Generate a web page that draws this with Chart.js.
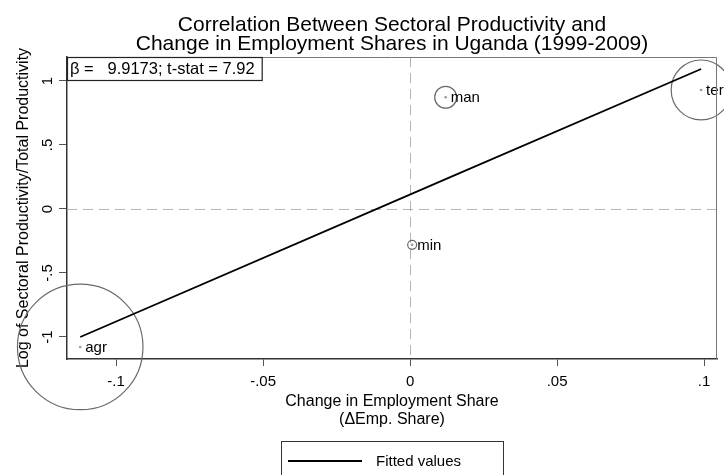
<!DOCTYPE html>
<html>
<head>
<meta charset="utf-8">
<script src="https://cdn.jsdelivr.net/npm/chart.js@4.4.1/dist/chart.umd.min.js"></script>
<style>
  html, body { margin: 0; padding: 0; background: #ffffff; }
  #wrap { width: 724px; height: 475px; }
</style>
</head>
<body>
<div id="wrap"><canvas id="c" width="724" height="475"></canvas></div>
<script>
// ---- data ----
const sectors = ['agr', 'min', 'man', 'ter'];
const empShareChange = [-0.1122, 0.0007, 0.0121, 0.0990];       // x: change in employment share
const logRelProductivity = [-1.078, -0.280, 0.873, 0.930];       // y: log sectoral / total productivity
const empShareWeight = [0.79, 0.004, 0.024, 0.18];               // bubble weights (employment share)
const fittedValues = [-1.000, 0.120, 0.233, 1.094];              // fitted regression line values
const xTickValues = [-0.1, -0.05, 0, 0.05, 0.1];
const xTickLabels = ['-.1', '-.05', '0', '.05', '.1'];
const yTickValues = [-1, -0.5, 0, 0.5, 1];
const yTickLabels = ['-1', '-.5', '0', '.5', '1'];
const betaValue = '9.9173';
const tStatValue = '7.92';
const titleLines = ['Correlation Between Sectoral Productivity and',
                    'Change in Employment Shares in Uganda (1999-2009)'];
const xTitleLines = ['Change in Employment Share', '(\u0394Emp. Share)'];
const yTitle = 'Log of Sectoral Productivity/Total Productivity';
const legendLabel = 'Fitted values';

// ---- styling ----
const FONT = "'Liberation Sans', Arial, Helvetica, sans-serif";
const BUBBLE_SCALE = 70.6;

const framePlugin = {
  id: 'frame',
  beforeDatasetsDraw(chart) {
    const {ctx, chartArea: a, scales: {x, y}} = chart;
    ctx.save();
    ctx.strokeStyle = '#b4b4b4';
    ctx.lineWidth = 1;
    ctx.setLineDash([10, 6]);
    const x0 = Math.round(x.getPixelForValue(0)) + 0.5;
    const y0 = Math.round(y.getPixelForValue(0)) + 0.5;
    ctx.beginPath();
    ctx.moveTo(x0, a.top); ctx.lineTo(x0, a.bottom);
    ctx.moveTo(a.left, y0); ctx.lineTo(a.right, y0);
    ctx.stroke();
    ctx.restore();
  },
  afterDatasetsDraw(chart) {
    const {ctx, chartArea: a} = chart;
    const meta = chart.getDatasetMeta(0);
    ctx.save();
    ctx.font = '15px ' + FONT;
    ctx.fillStyle = '#000';
    ctx.textBaseline = 'middle';
    ctx.textAlign = 'left';
    meta.data.forEach((pt, i) => {
      ctx.fillText(sectors[i], pt.x + 5, pt.y + 1);
    });
    ctx.strokeStyle = '#777';
    ctx.lineWidth = 1;
    ctx.beginPath();
    ctx.moveTo(a.left, a.top + 0.5); ctx.lineTo(a.right - 0.5, a.top + 0.5);
    ctx.lineTo(a.right - 0.5, a.bottom);
    ctx.stroke();
    ctx.font = '16.5px ' + FONT;
    const txt = '\u03B2 =   ' + betaValue + '; t-stat = ' + tStatValue;
    const w = ctx.measureText(txt).width;
    ctx.fillStyle = '#fff';
    ctx.fillRect(a.left, a.top, w + 10, 23);
    ctx.strokeStyle = '#222';
    ctx.lineWidth = 1.2;
    ctx.strokeRect(a.left + 0.5, a.top + 0.5, w + 10, 23);
    ctx.fillStyle = '#000';
    ctx.fillText(txt, a.left + 3, a.top + 12.5);
    ctx.restore();
  },
  afterDraw(chart) {
    const {ctx, chartArea: a} = chart;
    const ds = chart.data.datasets[2];
    const cx = (a.left + a.right) / 2;
    const bx = cx - 111, by = 441, bw = 222, bh = 40;
    ctx.save();
    ctx.strokeStyle = '#333';
    ctx.lineWidth = 1;
    ctx.strokeRect(bx + 0.5, by + 0.5, bw, bh);
    ctx.strokeStyle = ds.borderColor;
    ctx.lineWidth = ds.borderWidth;
    ctx.beginPath();
    ctx.moveTo(bx + 7, by + 20); ctx.lineTo(bx + 81, by + 20);
    ctx.stroke();
    ctx.font = '15px ' + FONT;
    ctx.fillStyle = '#000';
    ctx.textBaseline = 'middle';
    ctx.fillText(ds.label, bx + 95, by + 20.5);
    ctx.restore();
  }
};

new Chart(document.getElementById('c'), {
  type: 'scatter',
  data: {
    datasets: [
      {
        label: 'sector circles',
        data: sectors.map((s, i) => ({x: empShareChange[i], y: logRelProductivity[i]})),
        pointRadius: (ctx) => BUBBLE_SCALE * Math.sqrt(empShareWeight[ctx.dataIndex] || 0),
        pointHoverRadius: (ctx) => BUBBLE_SCALE * Math.sqrt(empShareWeight[ctx.dataIndex] || 0),
        pointBackgroundColor: 'rgba(0,0,0,0)',
        pointBorderColor: '#6a6a6a',
        pointBorderWidth: 1.2,
        clip: false,
        order: 3
      },
      {
        label: 'sector points',
        data: sectors.map((s, i) => ({x: empShareChange[i], y: logRelProductivity[i]})),
        pointRadius: 1.3,
        pointBackgroundColor: '#999',
        pointBorderWidth: 0,
        clip: false,
        order: 2
      },
      {
        label: legendLabel,
        type: 'line',
        data: sectors.map((s, i) => ({x: empShareChange[i], y: fittedValues[i]})),
        borderColor: '#000',
        borderWidth: 1.8,
        pointRadius: 0,
        tension: 0,
        fill: false,
        order: 1
      }
    ]
  },
  options: {
    responsive: false,
    animation: false,
    devicePixelRatio: 1,
    layout: { autoPadding: false, padding: { left: 0, right: 7, top: 0, bottom: 0 } },
    plugins: {
      legend: { display: false },
      tooltip: { enabled: false },
      title: {
        display: true,
        fullSize: false,
        text: titleLines,
        color: '#000',
        font: { family: FONT, size: 21, weight: 'normal', lineHeight: '19px' },
        padding: { top: 15.5, bottom: 3.5 }
      }
    },
    scales: {
      x: {
        type: 'linear',
        min: -0.1167,
        max: 0.1044,
        afterBuildTicks: (s) => { s.ticks = xTickValues.map(v => ({value: v})); },
        afterFit: (s) => { s.height = 116; },
        ticks: {
          autoSkip: false, maxRotation: 0, minRotation: 0,
          padding: 7, color: '#000',
          font: { family: FONT, size: 15 },
          callback: (v, i) => xTickLabels[i]
        },
        grid: { drawOnChartArea: false, drawTicks: true, tickLength: 7, color: '#555', lineWidth: 1 },
        border: { display: true, color: '#333', width: 1.5 },
        title: {
          display: true, text: xTitleLines, color: '#000',
          font: { family: FONT, size: 16, lineHeight: '18px' },
          padding: { top: 0, bottom: 46 }
        }
      },
      y: {
        type: 'linear',
        min: -1.172,
        max: 1.1875,
        afterBuildTicks: (s) => { s.ticks = yTickValues.map(v => ({value: v})); },
        afterFit: (s) => { s.width = 67; },
        ticks: {
          autoSkip: false, minRotation: 90, maxRotation: 90, crossAlign: 'center',
          padding: 2, color: '#000',
          font: { family: FONT, size: 15 },
          callback: (v, i) => yTickLabels[i]
        },
        grid: { drawOnChartArea: false, drawTicks: true, tickLength: 8, color: '#555', lineWidth: 1 },
        border: { display: true, color: '#333', width: 1.5 },
        title: {
          display: true, text: yTitle, color: '#000',
          font: { family: FONT, size: 16 },
          padding: { top: 13.5, bottom: 0 }
        }
      }
    }
  },
  plugins: [framePlugin]
});
</script>
</body>
</html>
